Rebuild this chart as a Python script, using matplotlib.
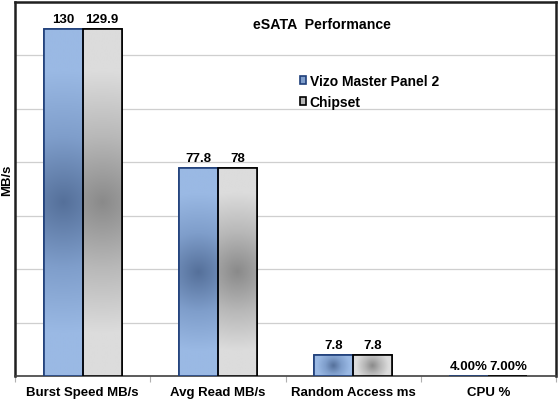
import matplotlib.pyplot as plt
import numpy as np
from matplotlib.colors import LinearSegmentedColormap

categories = ['Burst Speed MB/s', 'Avg Read MB/s', 'Random Access ms', 'CPU %']
vizo = [130, 77.8, 7.8, 0.04]
chipset = [129.9, 78, 7.8, 0.07]
vizo_labels = ['130', '77.8', '7.8', '4.00%']
chipset_labels = ['129.9', '78', '7.8', '7.00%']
series_names = ['Vizo Master Panel 2', 'Chipset']

plt.rcParams['font.family'] = ['Liberation Sans', 'DejaVu Sans']
plt.rcParams['font.weight'] = 'bold'

fig = plt.figure(figsize=(5.59, 4.02), dpi=100)
ax = fig.add_axes([15 / 559, 1 - 377 / 402, 541 / 559, 374 / 402])

x = np.arange(len(categories))
w = 0.288
blue_bars = ax.bar(x - w / 2, vizo, w, color='#7f9ecb', edgecolor='#1f3f7a', linewidth=1.2,
                   label=series_names[0], zorder=3)
grey_bars = ax.bar(x + w / 2, chipset, w, color='#b8b8b8', edgecolor='black', linewidth=1.2,
                   label=series_names[1], zorder=3)

ax.set_xlim(-0.5, 3.5)
ax.set_ylim(0, 140)
ax.set_yticks(np.arange(0, 141, 20))
ax.set_yticklabels([])
ax.tick_params(axis='y', length=0)
ax.yaxis.grid(True, color='#cfcfcf', linewidth=0.9, zorder=0)
ax.set_axisbelow(True)

# category boundary ticks
ax.set_xticks(np.arange(-0.5, 4, 1))
ax.set_xticklabels([])
ax.set_xticks(x, minor=True)
ax.set_xticklabels(categories, minor=True, fontsize=9.5, fontweight='bold')
ax.tick_params(axis='x', which='minor', length=0, pad=7)
ax.tick_params(axis='x', which='major', length=4, color='#b0b0b0', direction='out')

for side in ['left', 'top', 'right']:
    ax.spines[side].set_linewidth(1.8)
    ax.spines[side].set_color('#202020')
ax.spines['bottom'].set_linewidth(1.2)
ax.spines['bottom'].set_color('#404040')

fig.text(7 / 559, 1 - 180 / 402, 'MB/s', rotation=90, fontsize=9.5, fontweight='bold',
         ha='center', va='center')

# radial gradient fills
blue_cmap = LinearSegmentedColormap.from_list('b', ['#55709a', '#7f9ecb', '#9ab9e4'])
grey_cmap = LinearSegmentedColormap.from_list('g', ['#8a8a8a', '#b8b8b8', '#dcdcdc'])
px_x = 541 / 4.0
px_y = 374 / 140.0
for bars, cmap in [(blue_bars, blue_cmap), (grey_bars, grey_cmap)]:
    for b in bars:
        x0, y0 = b.get_x(), b.get_y()
        bw, bh = b.get_width(), b.get_height()
        if bh * px_y < 2:
            continue
        wpx, hpx = bw * px_x, bh * px_y
        nx, ny = 60, max(int(hpx), 10)
        gx = (np.linspace(0, 1, nx) - 0.5) * wpx
        gy = (np.linspace(0, 1, ny) - 0.5) * hpx
        X, Y = np.meshgrid(gx, gy)
        r = np.hypot(X, Y) / np.hypot(wpx / 2, hpx / 2)
        im = ax.imshow(r, cmap=cmap, vmin=0, vmax=0.75, extent=(x0, x0 + bw, y0, y0 + bh),
                       aspect='auto', origin='lower', zorder=3.5, interpolation='bilinear')
        im.set_clip_path(b)
        # redraw edge on top
        ax.add_patch(plt.Rectangle((x0, y0), bw, bh, fill=False,
                                   edgecolor=b.get_edgecolor(), linewidth=1.2, zorder=4))

for i in range(len(categories)):
    ax.text(x[i] - w / 2, vizo[i] + 1.5, vizo_labels[i], ha='center', va='bottom',
            fontsize=9.5, fontweight='bold', zorder=5)
    ax.text(x[i] + w / 2, chipset[i] + 1.5, chipset_labels[i], ha='center', va='bottom',
            fontsize=9.5, fontweight='bold', zorder=5)

fig.text(322 / 559, 1 - 25 / 402, 'eSATA  Performance', fontsize=10.2, fontweight='bold',
         ha='center', va='center')

leg = ax.legend(loc='upper left', bbox_to_anchor=(0.527, 0.808), frameon=False,
                fontsize=10, handlelength=0.45, handleheight=0.45, handletextpad=0.25,
                labelspacing=0.5, borderaxespad=0, borderpad=0)
for t in leg.get_texts():
    t.set_fontweight('bold')

fig.savefig('out.png', dpi=100)
